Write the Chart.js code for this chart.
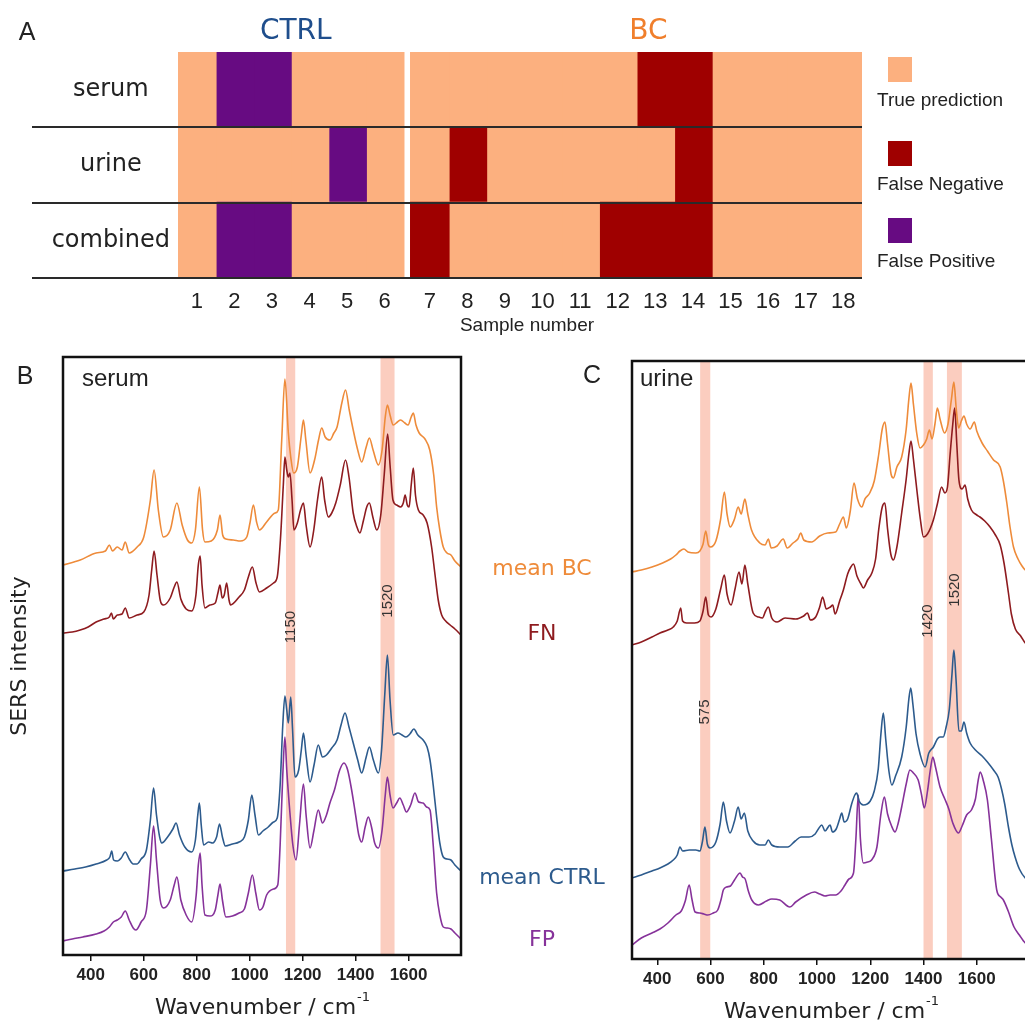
<!DOCTYPE html>
<html>
<head>
<meta charset="utf-8">
<title>SERS classification</title>
<script src="https://cdn.jsdelivr.net/npm/chart.js@4.4.1/dist/chart.umd.min.js"></script>
<style>
  html, body { margin: 0; padding: 0; background: #fff; overflow: hidden; }
  #page { position: relative; width: 1025px; height: 1024px; overflow: hidden; }
  canvas { position: absolute; }
  .t { position: absolute; white-space: nowrap; line-height: 1; transform: translate(-50%, -50%); color: #222; }
  .l { transform: translate(0, -50%); }
  .sq { position: absolute; width: 24px; height: 25px; }
</style>
</head>
<body>
<div id="page">
  <canvas id="chartA" width="1025" height="340" style="left:0;top:0"></canvas>
  <canvas id="chartB" width="560" height="684" style="left:0;top:340px"></canvas>
  <canvas id="chartC" width="500" height="684" style="left:560px;top:340px"></canvas>
  <div class="t" style="left:27px;top:31px;font:25px 'Liberation Sans'">A</div>
  <div class="t" style="left:25px;top:375px;font:25px 'Liberation Sans'">B</div>
  <div class="t" style="left:592px;top:374px;font:25px 'Liberation Sans'">C</div>
  <div class="t l" style="left:82px;top:378px;font:24px 'Liberation Sans'">serum</div>
  <div class="t l" style="left:640px;top:378px;font:24px 'Liberation Sans'">urine</div>
  <div id="legendA"></div>
  <div id="seriesLabels"></div>
</div>
<script>
'use strict';

// ---------- panel A: prediction outcome per sample ----------
const sampleNumbers = [1, 2, 3, 4, 5, 6, 7, 8, 9, 10, 11, 12, 13, 14, 15, 16, 17, 18];
const ctrlCount = 6;
const rowNames = ['serum', 'urine', 'combined'];
const serumOutcome = ['T', 'FP', 'FP', 'T', 'T', 'T', 'T', 'T', 'T', 'T', 'T', 'T', 'FN', 'FN', 'T', 'T', 'T', 'T'];
const urineOutcome = ['T', 'T', 'T', 'T', 'FP', 'T', 'T', 'FN', 'T', 'T', 'T', 'T', 'T', 'FN', 'T', 'T', 'T', 'T'];
const combinedOutcome = ['T', 'FP', 'FP', 'T', 'T', 'T', 'FN', 'T', 'T', 'T', 'T', 'FN', 'FN', 'FN', 'T', 'T', 'T', 'T'];
const outcomeKeys = ['T', 'FN', 'FP'];
const outcomeNames = { T: 'True prediction', FN: 'False Negative', FP: 'False Positive' };
const outcomeColors = { T: '#fcb07f', FN: '#9f0000', FP: '#670b82' };
const groupGap = 0.2;

// ---------- panels B and C: SERS spectra, [wavenumber, intensity a.u.] ----------
const wnTicks = [400, 600, 800, 1000, 1200, 1400, 1600];

const serumMeanBC = [
  [295, 390], [360, 395], [420, 402], [455, 404], [470, 410], [482, 404], [500, 408], [518, 405], [530, 413],
  [545, 402], [575, 408], [600, 418], [625, 455], [639, 485], [655, 445], [674, 418], [700, 425], [725, 452],
  [745, 430], [765, 415], [781, 412], [795, 425], [810, 468], [822, 425], [831, 413], [855, 414], [878, 425],
  [888, 440], [898, 420], [910, 416], [938, 415], [965, 414], [989, 418], [1001, 432], [1014, 450], [1026, 433],
  [1037, 425], [1064, 433], [1096, 442], [1108, 445], [1121, 515], [1133, 576], [1146, 522], [1155, 498],
  [1166, 482], [1180, 488], [1195, 520], [1203, 535], [1212, 515], [1228, 482], [1245, 495], [1260, 515],
  [1272, 527], [1285, 518], [1303, 515], [1318, 522], [1330, 528], [1348, 552], [1362, 565], [1376, 545],
  [1391, 525], [1408, 505], [1423, 493], [1440, 508], [1452, 517], [1466, 505], [1486, 490], [1500, 505],
  [1512, 538], [1520, 550], [1530, 540], [1542, 530], [1558, 533], [1570, 535], [1586, 532], [1598, 530],
  [1610, 538], [1618, 542], [1628, 530], [1640, 522], [1662, 516], [1680, 505], [1695, 480], [1706, 448],
  [1718, 425], [1731, 408], [1745, 402], [1760, 400], [1775, 394], [1798, 388]
];
const serumFN = [
  [295, 322], [330, 323], [360, 325], [390, 328], [420, 333], [450, 336], [470, 338], [478, 342], [485, 336],
  [500, 340], [518, 341], [530, 347], [545, 337], [575, 340], [600, 343], [620, 360], [630, 385], [639, 404],
  [650, 380], [662, 355], [674, 350], [700, 357], [715, 368], [725, 373], [740, 356], [760, 346], [781, 344],
  [797, 360], [806, 390], [813, 399], [820, 370], [831, 347], [850, 350], [870, 352], [880, 362], [888, 370],
  [896, 357], [904, 360], [913, 372], [922, 355], [928, 350], [960, 358], [980, 365], [995, 378], [1010, 388],
  [1024, 372], [1037, 363], [1064, 367], [1090, 372], [1104, 378], [1116, 415], [1127, 470], [1133, 498],
  [1140, 485], [1146, 478], [1152, 482], [1160, 455], [1167, 425], [1180, 432], [1192, 445], [1203, 452],
  [1213, 430], [1228, 408], [1242, 425], [1256, 455], [1272, 478], [1283, 455], [1297, 438], [1310, 442],
  [1325, 452], [1342, 470], [1362, 495], [1375, 478], [1391, 442], [1405, 428], [1416, 422], [1430, 435],
  [1442, 448], [1452, 452], [1465, 438], [1480, 425], [1495, 440], [1508, 480], [1521, 521], [1530, 490],
  [1541, 455], [1555, 450], [1570, 448], [1580, 452], [1587, 460], [1595, 450], [1602, 448], [1610, 470],
  [1618, 487], [1626, 460], [1637, 445], [1655, 440], [1670, 432], [1687, 408], [1700, 380], [1712, 355],
  [1725, 340], [1740, 334], [1757, 330], [1775, 326], [1798, 320]
];
const serumMeanCTRL = [
  [295, 84], [340, 86], [380, 88], [420, 91], [460, 95], [472, 98], [479, 104], [486, 95], [500, 94], [515, 97],
  [530, 103], [545, 96], [560, 91], [574, 91], [590, 96], [610, 105], [625, 135], [637, 167], [648, 140],
  [660, 118], [668, 112], [690, 118], [710, 126], [722, 132], [735, 120], [755, 108], [781, 103], [795, 115],
  [804, 140], [810, 152], [817, 130], [826, 110], [845, 113], [860, 112], [875, 118], [886, 131], [897, 118],
  [908, 109], [935, 111], [960, 113], [980, 118], [995, 135], [1008, 160], [1020, 140], [1033, 120],
  [1050, 124], [1070, 128], [1090, 133], [1104, 137], [1115, 170], [1125, 230], [1133, 259], [1140, 245],
  [1146, 232], [1155, 258], [1162, 225], [1171, 178], [1185, 185], [1195, 205], [1203, 222], [1213, 200],
  [1228, 173], [1243, 190], [1259, 210], [1275, 198], [1290, 200], [1310, 207], [1330, 215], [1345, 230],
  [1360, 242], [1375, 228], [1391, 212], [1408, 195], [1423, 182], [1440, 198], [1452, 208], [1467, 195],
  [1486, 182], [1498, 205], [1510, 260], [1520, 300], [1530, 255], [1542, 220], [1560, 222], [1575, 220],
  [1590, 218], [1605, 221], [1620, 226], [1635, 220], [1655, 215], [1670, 208], [1681, 195], [1693, 170],
  [1706, 138], [1718, 112], [1731, 98], [1745, 96], [1760, 95], [1775, 90], [1798, 84]
];
const serumFP = [
  [295, 14], [330, 16], [370, 18], [420, 21], [450, 24], [470, 28], [485, 33], [500, 35], [515, 38], [530, 44],
  [545, 35], [560, 27], [570, 25], [590, 33], [610, 45], [625, 90], [637, 129], [648, 95], [662, 55], [675, 47],
  [700, 55], [715, 70], [725, 78], [740, 55], [760, 40], [781, 33], [798, 60], [806, 90], [813, 102], [820, 70],
  [831, 40], [850, 39], [870, 45], [880, 60], [888, 71], [897, 55], [910, 38], [935, 39], [960, 42], [980, 46],
  [995, 62], [1010, 80], [1023, 62], [1037, 45], [1050, 48], [1064, 60], [1090, 66], [1106, 70], [1115, 110],
  [1125, 180], [1133, 218], [1140, 185], [1152, 142], [1163, 110], [1175, 95], [1188, 130], [1203, 171],
  [1213, 140], [1228, 107], [1243, 125], [1259, 145], [1275, 132], [1290, 140], [1303, 152], [1320, 165],
  [1340, 185], [1356, 192], [1370, 185], [1385, 165], [1400, 140], [1412, 120], [1423, 113], [1436, 128],
  [1448, 138], [1460, 128], [1472, 112], [1486, 107], [1500, 125], [1512, 160], [1520, 178], [1530, 160],
  [1541, 147], [1555, 152], [1567, 157], [1580, 150], [1592, 143], [1608, 150], [1624, 162], [1638, 153],
  [1655, 152], [1668, 148], [1681, 145], [1693, 110], [1706, 62], [1718, 40], [1731, 28], [1745, 27],
  [1760, 26], [1775, 22], [1798, 16]
];

const urineMeanBC = [
  [305, 387], [340, 389], [380, 392], [420, 396], [450, 400], [470, 404], [485, 408], [500, 410], [515, 407],
  [545, 406], [560, 408], [572, 415], [582, 428], [592, 414], [600, 412], [620, 418], [638, 440], [652, 467],
  [662, 445], [674, 432], [690, 440], [704, 452], [715, 445], [729, 460], [740, 445], [754, 429], [785, 416],
  [805, 414], [817, 420], [828, 411], [850, 413], [873, 420], [888, 411], [910, 416], [928, 420], [939, 426],
  [950, 419], [980, 417], [1010, 423], [1040, 426], [1070, 427], [1085, 435], [1099, 442], [1110, 431],
  [1125, 448], [1139, 476], [1152, 460], [1168, 452], [1180, 460], [1198, 466], [1215, 478], [1232, 505],
  [1245, 530], [1255, 537], [1265, 515], [1278, 485], [1287, 481], [1300, 492], [1318, 502], [1335, 530],
  [1345, 560], [1353, 576], [1362, 555], [1375, 525], [1387, 511], [1400, 514], [1412, 520], [1422, 529],
  [1432, 520], [1443, 535], [1452, 551], [1462, 540], [1479, 526], [1492, 535], [1505, 560], [1514, 577],
  [1523, 550], [1532, 531], [1542, 538], [1552, 543], [1562, 535], [1575, 530], [1591, 537], [1600, 528],
  [1620, 516], [1640, 508], [1663, 499], [1688, 492], [1700, 478], [1713, 456], [1725, 432], [1738, 412],
  [1755, 400], [1770, 393], [1782, 389], [1800, 386]
];
const urineFN = [
  [305, 314], [340, 317], [380, 322], [410, 326], [440, 329], [460, 332], [475, 338], [488, 351], [495, 338],
  [510, 336], [540, 336], [560, 338], [572, 348], [582, 362], [592, 344], [602, 342], [620, 350], [638, 370],
  [652, 384], [662, 365], [677, 354], [692, 370], [707, 387], [718, 375], [729, 394], [740, 375], [760, 346],
  [780, 342], [795, 341], [807, 348], [817, 352], [830, 341], [850, 337], [880, 341], [920, 340], [950, 343],
  [964, 346], [975, 339], [995, 342], [1010, 352], [1021, 362], [1035, 350], [1050, 352], [1059, 354],
  [1068, 345], [1085, 358], [1099, 369], [1115, 385], [1127, 392], [1137, 395], [1150, 383], [1165, 375],
  [1174, 371], [1190, 379], [1206, 386], [1220, 400], [1232, 430], [1245, 452], [1255, 456], [1265, 430],
  [1277, 405], [1287, 399], [1300, 412], [1318, 446], [1335, 480], [1345, 505], [1353, 518], [1362, 500],
  [1375, 469], [1388, 440], [1400, 422], [1415, 425], [1437, 439], [1452, 455], [1468, 472], [1480, 466],
  [1490, 472], [1500, 505], [1510, 535], [1517, 551], [1525, 515], [1533, 479], [1545, 470], [1556, 474],
  [1566, 460], [1580, 449], [1600, 444], [1612, 442], [1630, 438], [1650, 432], [1670, 424], [1688, 414],
  [1703, 395], [1719, 366], [1730, 345], [1745, 330], [1765, 323], [1782, 316], [1800, 313]
];
const urineMeanCTRL = [
  [305, 81], [340, 84], [380, 88], [410, 91], [440, 95], [460, 99], [475, 104], [485, 112], [495, 108],
  [520, 109], [545, 109], [560, 108], [570, 118], [579, 132], [588, 115], [598, 111], [620, 117], [636, 135],
  [648, 157], [660, 138], [673, 126], [690, 138], [704, 152], [715, 140], [727, 146], [740, 128], [760, 118],
  [785, 114], [805, 114], [817, 119], [830, 114], [860, 112], [890, 112], [918, 118], [940, 122], [970, 122],
  [993, 125], [1005, 130], [1018, 134], [1030, 128], [1049, 134], [1058, 127], [1072, 130], [1085, 140],
  [1093, 146], [1102, 137], [1115, 140], [1130, 155], [1142, 164], [1149, 166], [1158, 158], [1174, 154],
  [1200, 158], [1215, 168], [1230, 190], [1240, 225], [1249, 246], [1258, 220], [1270, 188], [1281, 174],
  [1295, 183], [1318, 202], [1335, 232], [1345, 260], [1352, 271], [1360, 255], [1372, 225], [1387, 205],
  [1406, 192], [1420, 206], [1437, 212], [1452, 220], [1462, 222], [1474, 222], [1485, 232], [1497, 250],
  [1507, 285], [1514, 309], [1522, 280], [1533, 228], [1542, 228], [1552, 237], [1562, 226], [1575, 216],
  [1595, 209], [1620, 203], [1640, 197], [1663, 189], [1680, 182], [1694, 169], [1705, 155], [1719, 132],
  [1732, 114], [1744, 102], [1760, 90], [1782, 81], [1800, 78]
];
const urineFP = [
  [305, 14], [340, 21], [380, 26], [410, 30], [440, 36], [470, 44], [490, 48], [505, 58], [520, 74], [530, 60],
  [542, 47], [560, 46], [575, 45], [590, 44], [610, 46], [627, 49], [640, 60], [648, 69], [660, 72], [675, 73],
  [690, 79], [711, 86], [720, 82], [730, 80], [742, 68], [755, 59], [780, 54], [810, 58], [830, 60], [860, 59],
  [898, 52], [920, 57], [960, 64], [990, 67], [1010, 65], [1030, 63], [1049, 64], [1070, 64], [1090, 68],
  [1105, 74], [1120, 80], [1137, 86], [1146, 120], [1155, 164], [1163, 120], [1174, 96], [1190, 97],
  [1205, 99], [1225, 112], [1240, 145], [1253, 162], [1265, 145], [1280, 133], [1293, 127], [1305, 136],
  [1318, 152], [1335, 175], [1349, 189], [1362, 186], [1380, 179], [1392, 165], [1403, 151], [1415, 168],
  [1425, 188], [1435, 202], [1445, 192], [1462, 172], [1480, 160], [1495, 150], [1510, 136], [1531, 126],
  [1545, 133], [1562, 144], [1580, 149], [1595, 160], [1605, 178], [1613, 187], [1625, 178], [1640, 159],
  [1655, 120], [1675, 69], [1690, 62], [1700, 59], [1718, 48], [1740, 32], [1760, 24], [1782, 16], [1800, 14]
];

const seriesNames = ['mean BC', 'FN', 'mean CTRL', 'FP'];
const seriesColors = ['#ee8b3a', '#8e1b1f', '#2d5b8d', '#86329a'];
const serumBands = [[1137, 1172], [1494, 1547]];
const serumBandLabels = ['1150', '1520'];
const urineBands = [[561, 599], [1400, 1435], [1488, 1544]];
const urineBandLabels = ['575', '1420', '1520'];

// ---------- panel A chart ----------
const rowOutcomes = [serumOutcome, urineOutcome, combinedOutcome];

function cellStart(i) {
  return i + (i >= ctrlCount ? groupGap : 0);
}

const panelAPlugin = {
  id: 'panelA',
  afterDraw(chart) {
    const { ctx, chartArea, scales: { x, y } } = chart;
    const rowH = (chartArea.bottom - chartArea.top) / rowNames.length;
    ctx.save();
    ctx.strokeStyle = '#2a2a2a';
    ctx.lineWidth = 2;
    rowNames.forEach((r, i) => {
      const yy = Math.round(y.getPixelForValue(i) + rowH / 2);
      ctx.beginPath();
      ctx.moveTo(y.left, yy);
      ctx.lineTo(chartArea.right, yy);
      ctx.stroke();
    });
    ctx.textAlign = 'center';
    ctx.textBaseline = 'middle';
    ctx.font = "28px 'DejaVu Sans'";
    ctx.fillStyle = '#1f4e8c';
    ctx.fillText('CTRL', x.getPixelForValue(ctrlCount / 2) + 5, 32);
    ctx.fillStyle = '#f07f2c';
    const bcMid = ctrlCount + groupGap + (sampleNumbers.length - ctrlCount) / 2;
    ctx.fillText('BC', x.getPixelForValue(bcMid) + 12, 32);
    ctx.fillStyle = '#222';
    ctx.font = "19px 'Liberation Sans'";
    ctx.fillText('Sample number', (chartArea.left + chartArea.right) / 2 + 7, 326);
    ctx.restore();
  }
};

new Chart(document.getElementById('chartA'), {
  type: 'bar',
  data: {
    labels: rowNames,
    datasets: sampleNumbers.map((s, i) => ({
      label: 'sample ' + s,
      data: rowOutcomes.map(() => [cellStart(i), cellStart(i) + 1]),
      backgroundColor: rowOutcomes.map(r => outcomeColors[r[i]]),
      borderWidth: 0,
      inflateAmount: 1,
      grouped: false,
      barPercentage: 1,
      categoryPercentage: 1
    }))
  },
  options: {
    indexAxis: 'y',
    responsive: false,
    animation: false,
    layout: { padding: { left: 32, top: 52, right: 163, bottom: 0 } },
    plugins: { legend: { display: false }, tooltip: { enabled: false } },
    scales: {
      x: {
        type: 'linear',
        min: 0,
        max: sampleNumbers.length + groupGap,
        afterBuildTicks: s => { s.ticks = sampleNumbers.map((n, i) => ({ value: cellStart(i) + 0.5 })); },
        afterFit: s => { s.height = 62; },
        grid: { display: false, drawTicks: false },
        border: { display: false },
        ticks: {
          autoSkip: false,
          maxRotation: 0,
          padding: 11,
          color: '#222',
          font: { family: 'Liberation Sans', size: 22 },
          callback: (v, i) => sampleNumbers[i]
        }
      },
      y: {
        type: 'category',
        afterFit: s => { s.width = 146; },
        grid: { display: false, drawTicks: false },
        border: { display: false },
        ticks: {
          crossAlign: 'center',
          padding: 8,
          color: '#222',
          font: { family: 'DejaVu Sans', size: 24 }
        }
      }
    }
  },
  plugins: [panelAPlugin]
});

// legend of panel A
const legendA = document.getElementById('legendA');
outcomeKeys.forEach((k, i) => {
  const top = [57, 141, 218][i];
  const sq = document.createElement('div');
  sq.className = 'sq';
  sq.style.left = '888px';
  sq.style.top = top + 'px';
  sq.style.background = outcomeColors[k];
  legendA.appendChild(sq);
  const t = document.createElement('div');
  t.className = 't l';
  t.style.left = '877px';
  t.style.top = (top + 43) + 'px';
  t.style.font = "19px 'Liberation Sans'";
  t.textContent = outcomeNames[k];
  legendA.appendChild(t);
});

// series names between panels B and C
const seriesLabelBox = document.getElementById('seriesLabels');
seriesNames.forEach((name, i) => {
  const t = document.createElement('div');
  t.className = 't';
  t.style.left = '542px';
  t.style.top = [567, 632, 876, 938][i] + 'px';
  t.style.font = "22px 'DejaVu Sans'";
  t.style.color = seriesColors[i];
  t.textContent = name;
  seriesLabelBox.appendChild(t);
});

// ---------- panels B and C ----------
function spectraPlugin(bands, bandLabels, labelLevels, withYTitle) {
  return {
    id: 'spectra',
    beforeDatasetsDraw(chart) {
      const { ctx, chartArea, scales: { x } } = chart;
      ctx.save();
      ctx.fillStyle = '#fbcdbf';
      bands.forEach(b => {
        const x0 = x.getPixelForValue(b[0]);
        const x1 = x.getPixelForValue(b[1]);
        ctx.fillRect(x0, chartArea.top, x1 - x0, chartArea.bottom - chartArea.top);
      });
      ctx.restore();
    },
    afterDraw(chart) {
      const { ctx, chartArea, scales: { x, y } } = chart;
      ctx.save();
      // frame
      ctx.strokeStyle = '#111';
      ctx.lineWidth = 2.5;
      ctx.strokeRect(chartArea.left, chartArea.top, chartArea.right - chartArea.left, chartArea.bottom - chartArea.top);
      // band labels, rotated
      ctx.fillStyle = '#333';
      ctx.font = "15px 'Liberation Sans'";
      ctx.textAlign = 'center';
      ctx.textBaseline = 'middle';
      bands.forEach((b, i) => {
        ctx.save();
        ctx.translate(x.getPixelForValue((b[0] + b[1]) / 2), y.getPixelForValue(labelLevels[i]));
        ctx.rotate(-Math.PI / 2);
        ctx.fillText(bandLabels[i], 0, 0);
        ctx.restore();
      });
      // x title with superscript
      ctx.fillStyle = '#222';
      const main = 'Wavenumber / cm';
      const sup = '-1';
      ctx.font = "22px 'DejaVu Sans'";
      const w1 = ctx.measureText(main).width;
      ctx.font = "13px 'DejaVu Sans'";
      const w2 = ctx.measureText(sup).width;
      const cx = (chartArea.left + chartArea.right) / 2;
      const ty = chartArea.bottom + 53;
      ctx.textAlign = 'left';
      ctx.font = "22px 'DejaVu Sans'";
      ctx.fillText(main, cx - (w1 + w2) / 2, ty);
      ctx.font = "13px 'DejaVu Sans'";
      ctx.fillText(sup, cx - (w1 + w2) / 2 + w1 + 1, ty - 10);
      // y title
      if (withYTitle) {
        ctx.translate(20, (chartArea.top + chartArea.bottom) / 2);
        ctx.rotate(-Math.PI / 2);
        ctx.textAlign = 'center';
        ctx.font = "22px 'DejaVu Sans'";
        ctx.fillText('SERS intensity', 0, 0);
      }
      ctx.restore();
    }
  };
}

function spectraChart(canvasId, curves, xMin, xMax, padding, xHeight, plugin) {
  return new Chart(document.getElementById(canvasId), {
    type: 'line',
    data: {
      datasets: curves.map((c, i) => ({
        label: seriesNames[i],
        data: c.map(p => ({ x: p[0], y: p[1] })),
        borderColor: seriesColors[i],
        borderWidth: 1.6,
        pointRadius: 0,
        fill: false,
        cubicInterpolationMode: 'monotone'
      }))
    },
    options: {
      responsive: false,
      animation: false,
      layout: { padding: padding },
      plugins: { legend: { display: false }, tooltip: { enabled: false } },
      scales: {
        x: {
          type: 'linear',
          min: xMin,
          max: xMax,
          afterBuildTicks: s => { s.ticks = wnTicks.map(v => ({ value: v })); },
          afterFit: s => { s.height = xHeight; },
          grid: { drawOnChartArea: false, drawTicks: true, tickLength: 6, color: '#111', lineWidth: 1.5 },
          border: { display: false },
          ticks: {
            autoSkip: false,
            maxRotation: 0,
            padding: 4,
            color: '#222',
            font: { family: 'Liberation Sans', size: 17, weight: 'bold' },
            callback: v => String(v)
          }
        },
        y: { display: false, min: 0, max: 598 }
      }
    },
    plugins: [plugin]
  });
}

spectraChart('chartB', [serumMeanBC, serumFN, serumMeanCTRL, serumFP], 295, 1798,
  { left: 63, top: 17, right: 99, bottom: 0 }, 69,
  spectraPlugin(serumBands, serumBandLabels, [328, 354], true));

spectraChart('chartC', [urineMeanBC, urineFN, urineMeanCTRL, urineFP], 305, 1800,
  { left: 72, top: 21, right: 30, bottom: 0 }, 65,
  spectraPlugin(urineBands, urineBandLabels, [247, 338, 369], false));
</script>
</body>
</html>
